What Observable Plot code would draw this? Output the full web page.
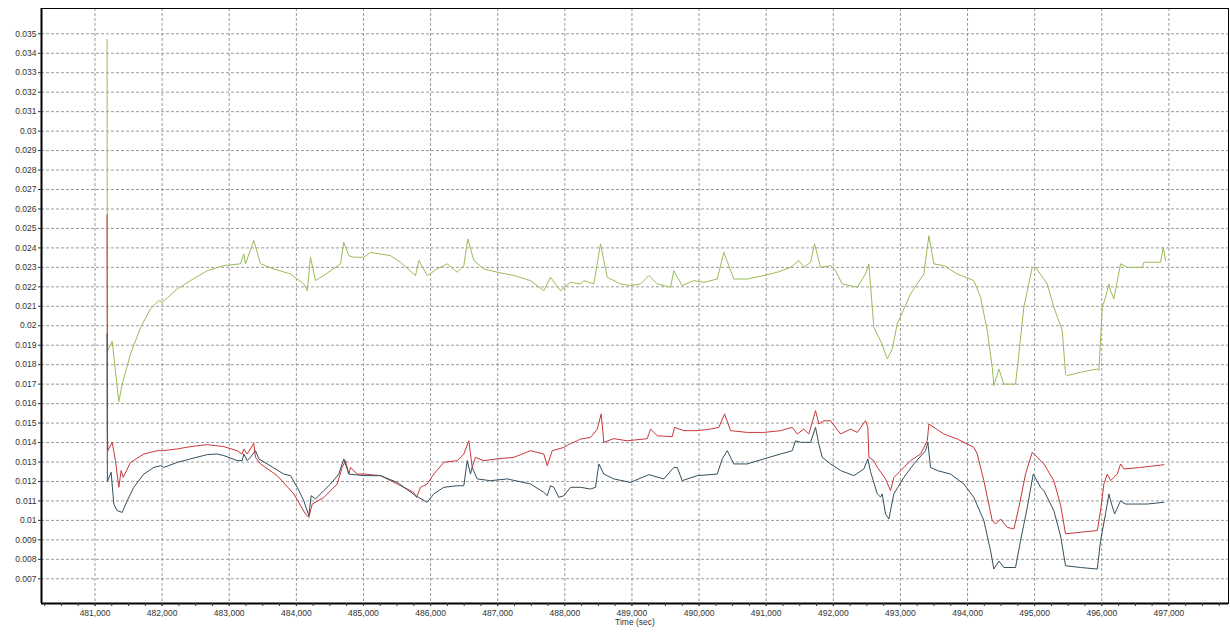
<!DOCTYPE html>
<html>
<head>
<meta charset="utf-8">
<script src="https://cdn.jsdelivr.net/npm/d3@7"></script>
<script src="https://cdn.jsdelivr.net/npm/@observablehq/plot@0.6"></script>
<style>
  html, body { margin: 0; padding: 0; background: #fff; }
  #chart svg { display: block; }
</style>
</head>
<body>
<div id="chart"></div>
<script>
// ---- Data (time in seconds, value) ----
const greenTime = [481180,481184,481256,481355,481405,481529,481678,481827,481951,482001,482225,482423,482672,482919,483168,483217,483242,483366,483466,483664,483913,484111,484162,484211,484285,484409,484658,484707,484782,484856,485005,485105,485403,485552,485775,485825,485950,486099,486248,486397,486495,486555,486644,486793,486993,487240,487489,487687,487787,487936,488085,488234,488283,488432,488532,488632,488830,488979,489128,489252,489377,489575,489624,489749,489922,490071,490271,490369,490518,490718,490965,491165,491363,491487,491561,491661,491720,491810,491959,492033,492133,492357,492480,492530,492545,492604,492704,492778,492804,492878,492953,493151,493349,493424,493498,493647,493847,494094,494194,494294,494368,494392,494467,494541,494641,494715,494765,494839,494964,495013,495188,495286,495411,495460,495486,495684,495933,495957,496007,496056,496106,496131,496180,496280,496380,496603,496627,496876,496916,496950];
const greenValue = [0.0347,0.0187,0.0192,0.0161,0.0170,0.01855,0.0199,0.02087,0.02129,0.0212,0.02189,0.02232,0.02283,0.02309,0.02318,0.02369,0.02318,0.02438,0.02318,0.02292,0.02266,0.02215,0.0218,0.02352,0.02232,0.02258,0.02318,0.02429,0.0236,0.02352,0.02352,0.02377,0.0236,0.02326,0.02258,0.02335,0.02258,0.02292,0.02318,0.02275,0.02309,0.02446,0.02335,0.02292,0.02275,0.02258,0.02232,0.0218,0.02249,0.0218,0.02223,0.02215,0.02232,0.02215,0.02421,0.02249,0.02215,0.02206,0.02215,0.02258,0.02215,0.02198,0.02283,0.02206,0.02232,0.02223,0.0224,0.02377,0.0224,0.0224,0.02258,0.02275,0.023,0.02335,0.023,0.02326,0.02421,0.023,0.02309,0.02283,0.02215,0.02198,0.02266,0.02318,0.0225,0.01992,0.01923,0.01855,0.01829,0.0188,0.0201,0.02164,0.02266,0.02463,0.02318,0.02309,0.02266,0.02232,0.02146,0.01975,0.01786,0.01692,0.01778,0.017,0.017,0.017,0.01855,0.02095,0.023,0.023,0.02215,0.02095,0.01975,0.01753,0.01744,0.01761,0.01778,0.0177,0.02095,0.02146,0.02215,0.0218,0.02138,0.02318,0.023,0.023,0.02326,0.02326,0.02403,0.02335];

const redTime = [481180,481184,481191,481256,481305,481355,481390,481420,481529,481727,481927,482001,482225,482423,482672,482919,483119,483193,483217,483268,483366,483391,483466,483715,483962,484136,484186,484236,484409,484609,484683,484732,484782,484807,484907,485005,485254,485503,485750,485790,485850,485950,486048,486197,486397,486495,486570,486620,486669,486793,486993,487240,487489,487687,487738,487812,487985,488085,488185,488234,488383,488483,488542,488581,488730,488930,489228,489277,489377,489600,489635,489773,489973,490171,490295,490380,490469,490718,490965,491214,491388,491463,491561,491636,491686,491735,491785,491859,491959,492108,492257,492357,492480,492515,492530,492604,492655,492729,492778,492853,492902,493051,493151,493300,493400,493424,493498,493647,493847,494094,494145,494243,494368,494417,494492,494592,494690,494765,494864,494964,495039,495137,495286,495386,495460,495684,495933,495982,496031,496082,496131,496180,496231,496280,496329,496578,496925];
const redValue = [0.0257,0.0147,0.01358,0.01401,0.01307,0.0117,0.01256,0.01221,0.01298,0.01341,0.01358,0.01358,0.01367,0.01379,0.01389,0.01379,0.01358,0.01341,0.01367,0.01341,0.01396,0.01324,0.0129,0.0123,0.01136,0.01033,0.01015,0.01084,0.01118,0.01187,0.01272,0.01307,0.01238,0.01272,0.01238,0.01238,0.0123,0.01187,0.01144,0.01118,0.0117,0.01187,0.01238,0.01298,0.01307,0.01341,0.01409,0.01272,0.01324,0.01307,0.01316,0.01324,0.01358,0.01341,0.01281,0.01358,0.01375,0.01395,0.01409,0.01418,0.01426,0.01469,0.01547,0.01401,0.0142,0.01409,0.0142,0.01469,0.01435,0.0143,0.01478,0.01461,0.01461,0.01469,0.01478,0.01547,0.01461,0.01452,0.01452,0.01461,0.01478,0.01444,0.01469,0.01444,0.01504,0.01564,0.01495,0.01512,0.01512,0.01444,0.01469,0.01452,0.01512,0.01478,0.01324,0.01307,0.01272,0.01238,0.01213,0.01153,0.01221,0.01272,0.01307,0.01341,0.01409,0.01495,0.01478,0.01444,0.01418,0.01375,0.01341,0.01204,0.00999,0.00981,0.01007,0.00964,0.00956,0.01067,0.01238,0.0135,0.01324,0.0129,0.01204,0.0108,0.00931,0.00939,0.00948,0.0105,0.01187,0.01238,0.01204,0.01221,0.01238,0.0129,0.01264,0.01272,0.01286];

const darkTime = [481180,481184,481241,481280,481331,481405,481480,481578,481727,481876,481976,482025,482225,482423,482672,482821,482919,483119,483193,483217,483268,483317,483391,483441,483566,483813,483913,484013,484111,484186,484221,484285,484409,484509,484633,484707,484782,485005,485254,485503,485775,485950,486048,486197,486397,486495,486546,486595,486620,486695,486893,487142,487489,487687,487738,487787,487836,487911,487985,488085,488234,488383,488457,488507,488581,488730,488979,489252,489475,489624,489675,489749,489973,490271,490345,490420,490518,490718,490965,491214,491388,491437,491512,491661,491735,491785,491835,491959,492108,492306,492455,492515,492555,492655,492704,492729,492778,492828,492902,493051,493200,493374,493409,493449,493549,493747,493945,494094,494243,494343,494392,494467,494541,494715,494790,494890,494979,495088,495137,495286,495386,495460,495684,495933,495982,496056,496106,496131,496191,496280,496305,496354,496678,496925];
const darkValue = [0.0196,0.0120,0.01247,0.01084,0.0105,0.01041,0.01101,0.0117,0.01238,0.01272,0.01281,0.01272,0.01298,0.01316,0.01338,0.01341,0.01333,0.01307,0.01307,0.01341,0.01307,0.01325,0.01358,0.01316,0.0129,0.01238,0.0123,0.0117,0.01101,0.01024,0.01127,0.0111,0.01153,0.01187,0.01238,0.01316,0.01238,0.0123,0.0123,0.01195,0.01127,0.01093,0.01136,0.0117,0.01178,0.01178,0.01307,0.01238,0.01272,0.01213,0.01204,0.01213,0.01187,0.01144,0.01127,0.01178,0.0117,0.01118,0.01127,0.0117,0.0117,0.01161,0.0117,0.0129,0.01238,0.01213,0.01195,0.01235,0.01213,0.01272,0.01272,0.01204,0.0123,0.01238,0.01316,0.01358,0.0129,0.0129,0.01316,0.01341,0.01358,0.01409,0.01401,0.01401,0.01478,0.01392,0.01324,0.0129,0.01256,0.0123,0.01264,0.01316,0.0125,0.01136,0.0112,0.01136,0.01033,0.01007,0.01136,0.01221,0.0129,0.01358,0.01401,0.01272,0.01256,0.01238,0.01187,0.01118,0.00999,0.00844,0.0075,0.00791,0.00758,0.00758,0.00896,0.01067,0.01238,0.0117,0.01153,0.0105,0.0092,0.00767,0.00758,0.0075,0.00896,0.01033,0.01136,0.01101,0.01033,0.01101,0.01093,0.01084,0.01084,0.01093];

const xTicks = [481000,482000,483000,484000,485000,486000,487000,488000,489000,490000,491000,492000,493000,494000,495000,496000,497000];
const yTicks = [0.007,0.008,0.009,0.01,0.011,0.012,0.013,0.014,0.015,0.016,0.017,0.018,0.019,0.02,0.021,0.022,0.023,0.024,0.025,0.026,0.027,0.028,0.029,0.03,0.031,0.032,0.033,0.034,0.035];
const xMinorTicks = d3.range(480250, 497900, 250);
const xLabel = "Time (sec)";

const xDomain = [480203, 497888];
const yDomain = [0.00573, 0.0363];

const toRows = (t, v) => t.map((d, i) => ({time: d, value: v[i]}));
const green = toRows(greenTime, greenValue);
const red = toRows(redTime, redValue);
const dark = toRows(darkTime, darkValue);

const gridStyle = {stroke: "#9a9a9a", strokeOpacity: 1, strokeDasharray: "3,2", strokeWidth: 1};

const chart = Plot.plot({
  width: 1230,
  height: 633,
  marginLeft: 41,
  marginRight: 2,
  marginTop: 8,
  marginBottom: 30,
  style: {fontFamily: "'Liberation Sans', Arial, sans-serif", fontSize: "8.5px", color: "#333", background: "#fff"},
  x: {domain: xDomain},
  y: {domain: yDomain},
  marks: [
    Plot.gridX(xTicks, gridStyle),
    Plot.gridY(yTicks, gridStyle),
    Plot.line(green, {x: "time", y: "value", stroke: "#9bbb59", strokeWidth: 1}),
    Plot.line(red, {x: "time", y: "value", stroke: "#c8383a", strokeWidth: 1}),
    Plot.line(dark, {x: "time", y: "value", stroke: "#34505e", strokeWidth: 1}),
    Plot.frame({stroke: "#000", strokeWidth: 1}),
    Plot.ruleX([xDomain[0]], {stroke: "#000", strokeWidth: 2}),
    Plot.ruleY([yDomain[0]], {stroke: "#000", strokeWidth: 2}),
    Plot.axisY(yTicks, {tickSize: 3, tickPadding: 2, tickFormat: d3.format("~g"), label: null, fill: "#333"}),
    Plot.axisX(xMinorTicks, {tickSize: 3, tickFormat: () => "", label: null}),
    Plot.axisX(xTicks, {tickSize: 3, tickPadding: 3, tickFormat: d3.format(","), label: null, fill: "#333"}),
    Plot.text([xLabel], {frameAnchor: "bottom", dy: 21, fill: "#333"})
  ]
});
document.getElementById("chart").appendChild(chart);
</script>
</body>
</html>
